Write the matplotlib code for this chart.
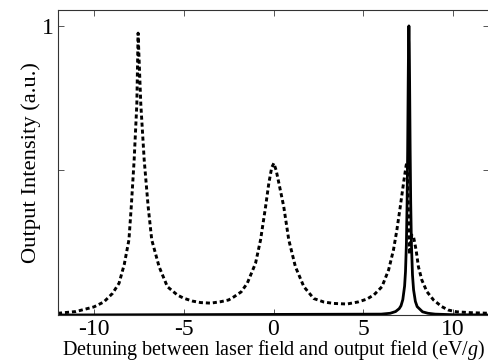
import matplotlib
matplotlib.use('Agg')
import matplotlib.pyplot as plt

plt.rc('font', family='Liberation Serif')
plt.rc('mathtext', fontset='custom', it='Liberation Serif:italic', rm='Liberation Serif')

# dashed curve
x_dash = [-12.0, -11.0, -10.0, -9.45, -8.96, -8.6, -8.31, -8.05, -7.92, -7.76, -7.61, -7.54,
          -7.39, -7.2, -6.98, -6.78, -6.37, -5.91, -5.35, -5.0, -4.5, -4.06, -3.5, -2.94,
          -2.5, -2.2, -1.8, -1.46, -1.0, -0.72, -0.44, -0.26, -0.1, 0.02, 0.15, 0.3, 0.57,
          0.85, 1.22, 1.69, 2.24, 2.8, 3.35, 4.09, 4.7, 5.2, 5.6, 6.04, 6.41, 6.68, 6.87,
          7.06, 7.24, 7.39, 7.45, 7.5, 7.55, 7.58, 7.64, 7.7, 7.8, 7.94, 8.07, 8.26, 8.54,
          8.91, 9.37, 9.74, 10.2, 11.0, 12.0]
y_dash = [0.006, 0.012, 0.028, 0.045, 0.075, 0.11, 0.175, 0.26, 0.375, 0.536, 0.73, 0.975,
          0.73, 0.536, 0.375, 0.26, 0.167, 0.098, 0.069, 0.058, 0.048, 0.043, 0.041, 0.046,
          0.052, 0.063, 0.08, 0.11, 0.179, 0.26, 0.375, 0.456, 0.51, 0.525, 0.5, 0.456, 0.375,
          0.26, 0.167, 0.098, 0.057, 0.045, 0.04, 0.038, 0.045, 0.055, 0.07, 0.098, 0.156, 0.225, 0.294,
          0.375, 0.456, 0.519, 0.525, 0.40, 0.25, 0.21, 0.25, 0.277, 0.27, 0.225, 0.167, 0.121, 0.081,
          0.052, 0.029, 0.017, 0.011, 0.008, 0.006]

# solid curve
x_solid = [-12.0, 6.0, 6.5, 6.8, 7.0, 7.1, 7.2, 7.3, 7.35, 7.4, 7.44, 7.47, 7.5, 7.52, 7.54,
           7.56, 7.58, 7.61, 7.64, 7.68, 7.74, 7.8, 7.9, 8.0, 8.3, 8.6, 9.0, 10.0, 12.0]
y_solid = [0.0, 0.003, 0.006, 0.012, 0.022, 0.032, 0.053, 0.10, 0.15, 0.246, 0.39, 0.566, 0.80,
           0.94, 1.0, 0.94, 0.80, 0.566, 0.39, 0.246, 0.138, 0.087, 0.047, 0.029, 0.011, 0.006,
           0.003, 0.001, 0.0]

xticks = [-10, -5, 0, 5, 10]
yticks = [0, 0.5, 1]
yticklabels = ['', '', '1']

fig = plt.figure(figsize=(4.88, 3.64), dpi=100)
ax = fig.add_axes([58/488, 49/364, 431/488, 305/364])

ax.plot(x_dash, y_dash, color='k', lw=2.1, dashes=(1.4, 1.0))
ax.plot(x_solid, y_solid, color='k', lw=2)

ax.set_xlim(-12, 12)
ax.set_ylim(0, 1.055)
ax.set_xticks(xticks)
ax.set_xticklabels([str(t) for t in xticks])
ax.set_yticks(yticks)
ax.set_yticklabels(yticklabels)
ax.tick_params(direction='in', top=True, right=True, length=4, width=0.7,
               labelsize=17, pad=3, color='#555555')
for s in ax.spines.values():
    s.set_linewidth(0.8)
    s.set_color('#333333')

ax.set_xlabel('Detuning between laser field and output field (eV/$g$)', fontsize=14.5, labelpad=-1.5)
ax.set_ylabel('Output Intensity (a.u.)', fontsize=16.2, labelpad=1)

fig.savefig('out.png', dpi=100)
